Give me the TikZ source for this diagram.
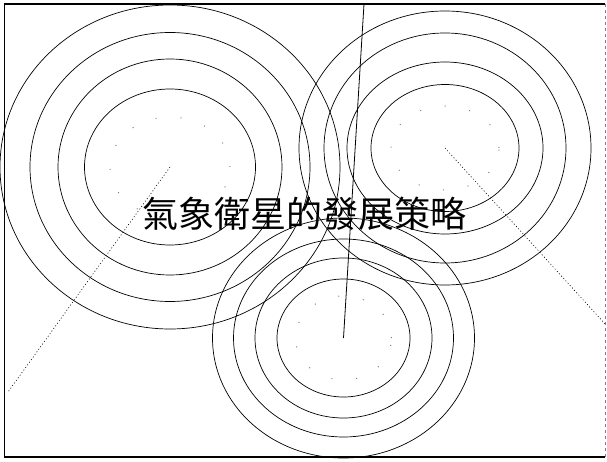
\documentclass[tikz,border=0pt]{standalone}
\usepackage{fontspec}
\newfontfamily\cjk{Noto Sans CJK TC}
\begin{document}
\begin{tikzpicture}[x=1pt,y=-1pt,
  ring/.style={line width=0.7pt},
  dotring/.style={line width=1pt, gray, dash pattern=on 1pt off 24pt},
  ray/.style={line width=0.6pt, dash pattern=on 1pt off 2.2pt},
  spoke/.style={line width=0.8pt},
  frame/.style={line width=1.3pt},
  title/.style={inner sep=0pt, anchor=base, font=\cjk\fontsize{36}{36}\selectfont}]
\useasboundingbox (0,0) rectangle (607,462);
\draw[frame] (605,4) -- (4.5,4) -- (4.5,457) -- (605,457);
\draw[line width=0.5pt, gray, dash pattern=on 3pt off 3pt] (605,4) -- (605,457);
% centres
\coordinate (L) at (170,167);
\coordinate (R) at (445,148);
\coordinate (B) at (343.5,338);
\coordinate (LE) at (8,392);
\coordinate (RE) at (606,325);
\coordinate (TE) at (364,4);
% left group
\draw[ring] (L) ellipse [x radius=85.5pt, y radius=78pt];
\draw[ring] (L) ellipse [x radius=112pt, y radius=108pt];
\draw[ring] (L) ellipse [x radius=140pt, y radius=134.5pt];
\draw[ring] (L) ellipse [x radius=170pt, y radius=162pt];
\draw[dotring] (L) ellipse [x radius=60pt, y radius=50pt];
% right group
\draw[ring] (R) ellipse [x radius=74pt, y radius=63.5pt];
\draw[ring] (R) ellipse [x radius=98pt, y radius=86pt];
\draw[ring] (R) ellipse [x radius=121pt, y radius=115pt];
\draw[ring] (R) ellipse [x radius=146pt, y radius=137pt];
\draw[dotring] (R) ellipse [x radius=54pt, y radius=42pt];
% bottom group
\draw[ring] (B) ellipse [x radius=66.5pt, y radius=59pt];
\draw[ring] (B) ellipse [x radius=88.5pt, y radius=80pt];
\draw[ring] (B) ellipse [x radius=110pt, y radius=99pt];
\draw[ring] (B) ellipse [x radius=131pt, y radius=120pt];
\draw[dotring] (B) ellipse [x radius=48pt, y radius=42pt];
% rays
\draw[ray] (L) -- (LE);
\draw[ray] (R) -- (RE);
\draw[spoke] (TE) -- (B);
% title
\node[title] (T) at (304.5,227.5) {氣象衛星的發展策略};
\end{tikzpicture}
\end{document}
